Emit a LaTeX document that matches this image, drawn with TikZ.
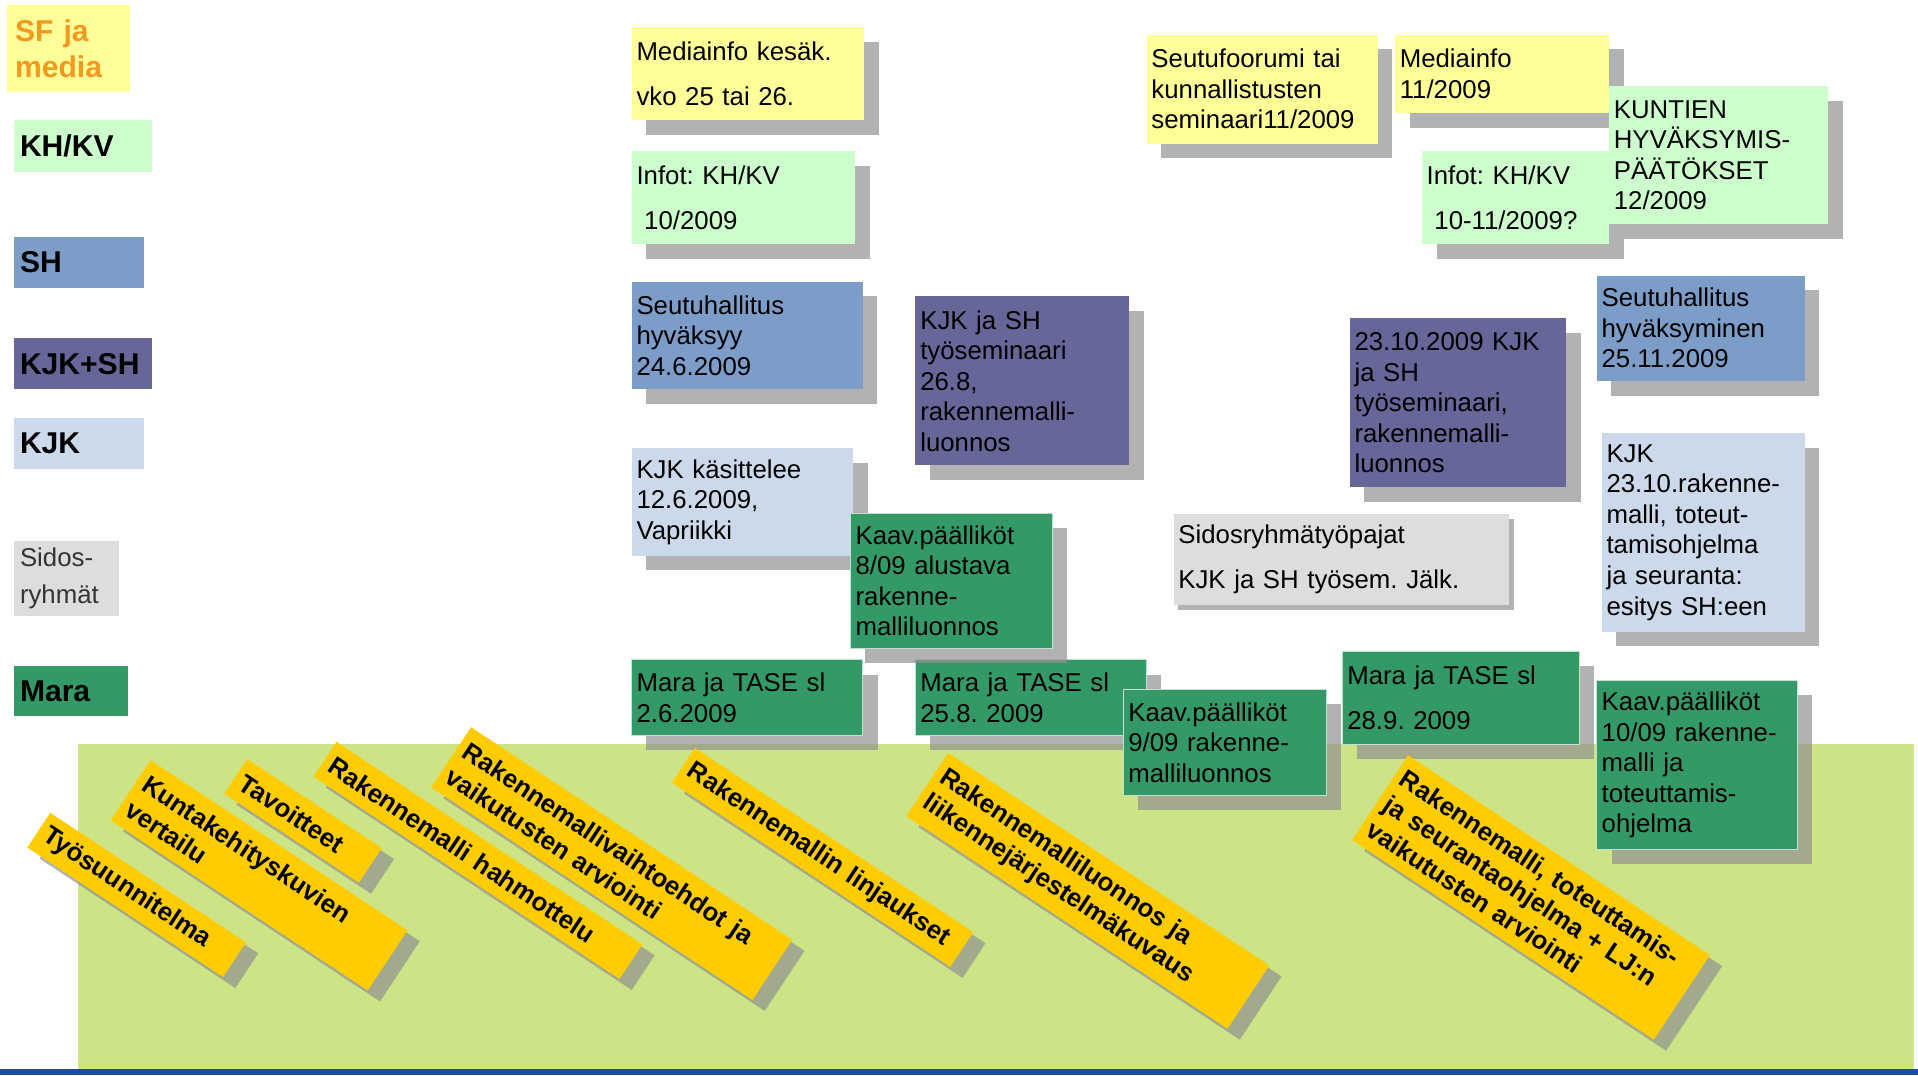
\documentclass[tikz,border=0pt]{standalone}
\usepackage{fontspec}
\setmainfont{Liberation Sans}
\usetikzlibrary{shadows}

\definecolor{infoyel}{HTML}{FFFF99}
\definecolor{khgreen}{HTML}{CCFFCC}
\definecolor{shblue}{HTML}{7C9DC8}
\definecolor{kjkshpurple}{HTML}{666699}
\definecolor{kjkblue}{HTML}{CCD9EA}
\definecolor{sidosgray}{HTML}{DDDDDD}
\definecolor{maragreen}{HTML}{339966}
\definecolor{phaseyel}{HTML}{FFCC00}
\definecolor{phasebg}{HTML}{CCE386}
\definecolor{sforange}{HTML}{F39A1E}
\definecolor{barblue}{HTML}{1F4E9A}
\definecolor{shadowgray}{HTML}{919191}

\begin{document}
\frenchspacing
\begin{tikzpicture}[
    x=0.02cm, y=-0.02cm,
    legend/.style={anchor=north west, align=left, inner xsep=0.1cm, inner ysep=0pt, font=\bfseries\fontsize{14}{17}\selectfont},
    evbox/.style={anchor=north west, align=left, inner xsep=0.08cm, inner ysep=0pt, font=\fontsize{12}{14.2}\selectfont},
    event/.style={evbox, drop shadow={shadow xshift=0.24cm, shadow yshift=-0.24cm, fill=shadowgray, opacity=0.7}},
    mara/.style={event, fill=maragreen, draw=white!70!maragreen, line width=0.5pt},
    phase/.style={anchor=north west, align=left, rotate=-33.5, fill=phaseyel, inner xsep=0.12cm, inner ysep=0pt, font=\bfseries\fontsize{12}{14.2}\selectfont, drop shadow={shadow xshift=0.2cm, shadow yshift=-0.18cm, fill=shadowgray, opacity=0.7}}
]
\useasboundingbox (0,0) rectangle (1568,879);
\fill [phasebg] (64,608) rectangle (1565,874);
\fill [barblue] (0,874) rectangle (1568,879);

\node (sfmedia) [legend, fill=infoyel, text=sforange, inner xsep=0.14cm, text width=1.74cm, minimum height=1.42cm] at (5,4) {SF ja\\media};
\node (khkv) [legend, fill=khgreen, text width=2.06cm, minimum height=0.84cm] at (11,98) {KH/KV};
\node (sh) [legend, fill=shblue, text width=1.92cm, minimum height=0.84cm] at (11,193) {SH};
\node (kjksh) [legend, fill=kjkshpurple, text width=2.06cm, minimum height=0.84cm] at (11,276) {KJK+SH};
\node (kjk) [legend, fill=kjkblue, text width=1.92cm, minimum height=0.84cm] at (11,341) {KJK};
\node (sidos) [legend, fill=sidosgray, text=black!80, font=\fontsize{12}{17}\selectfont, text width=1.52cm, minimum height=1.22cm] at (11,442) {Sidos-\\ryhmät};
\node (mara) [legend, fill=maragreen, text width=1.66cm, minimum height=0.82cm] at (11,544) {Mara};

\node (mediakes) [event, fill=infoyel, text width=3.64cm, minimum height=1.52cm] at (516,22) {Mediainfo kesäk.\\[6.8pt]vko 25 tai 26.};
\node (infokh) [event, fill=khgreen, text width=3.50cm, minimum height=1.52cm] at (516,123) {Infot: KH/KV\\[6.8pt]\hspace*{0.3em}10/2009};
\node (shkes) [event, fill=shblue, text width=3.62cm, minimum height=1.76cm] at (516,230) {Seutuhallitus\\hyväksyy\\24.6.2009};
\node (semelo) [event, fill=kjkshpurple, text width=3.34cm, minimum height=2.76cm] at (748,242) {KJK ja SH\\työseminaari\\26.8,\\rakennemalli-\\luonnos};
\node (kjkkes) [event, fill=kjkblue, text width=3.46cm, minimum height=1.76cm] at (516,366) {KJK käsittelee\\12.6.2009,\\Vapriikki};
\node (marakes) [mara, text width=3.62cm, minimum height=1.24cm] at (516,539) {Mara ja TASE sl\\2.6.2009};
\node (maraelo) [mara, text width=3.62cm, minimum height=1.24cm] at (748,539) {Mara ja TASE sl\\25.8. 2009};
\node (kaavelo) [mara, text width=3.14cm, minimum height=2.22cm] at (695,419) {Kaav.päälliköt\\8/09 alustava\\rakenne-\\malliluonnos};
\node (kaavsyys) [mara, text width=3.16cm, minimum height=1.74cm] at (918,563) {Kaav.päälliköt\\9/09 rakenne-\\malliluonnos};

\node (foorumi) [event, fill=infoyel, text width=3.62cm, minimum height=1.78cm] at (937,28) {Seutufoorumi tai\\kunnallistusten\\seminaari11/2009};
\node (mediamar) [event, fill=infoyel, text width=3.34cm, minimum height=1.28cm] at (1140,28) {Mediainfo\\11/2009};
\node (infokh2) [event, fill=khgreen, text width=2.90cm, minimum height=1.52cm] at (1162,123) {Infot: KH/KV\\[6.8pt]\hspace*{0.3em}10-11/2009?};
\node (kuntien) [event, fill=khgreen, text width=3.42cm, minimum height=2.26cm] at (1315,70) {KUNTIEN\\HYVÄKSYMIS-\\PÄÄTÖKSET\\12/2009};
\node (shmar) [event, fill=shblue, text width=3.24cm, minimum height=1.72cm] at (1305,225) {Seutuhallitus\\hyväksyminen\\25.11.2009};
\node (semlok) [event, fill=kjkshpurple, text width=3.38cm, minimum height=2.76cm] at (1103,260) {23.10.2009 KJK\\ja SH\\työseminaari,\\rakennemalli-\\luonnos};
\node (sidospaja) [evbox, fill=sidosgray, text width=5.32cm, minimum height=1.48cm, drop shadow={shadow xshift=0.08cm, shadow yshift=-0.08cm, fill=shadowgray, opacity=0.7}] at (959,420) {Sidosryhmätyöpajat\\[6.8pt]KJK ja SH työsem. Jälk.};
\node (kjklok) [event, fill=kjkblue, text width=3.16cm, minimum height=3.24cm] at (1309,354) {KJK\\23.10.rakenne-\\malli, toteut-\\tamisohjelma\\ja seuranta:\\esitys SH:een};
\node (marasyys) [mara, text width=3.72cm, minimum height=1.52cm] at (1097,532) {Mara ja TASE sl\\[7pt]28.9. 2009};
\node (kaavlok) [mara, text width=3.12cm, minimum height=2.76cm] at (1305,556) {Kaav.päälliköt\\10/09 rakenne-\\malli ja\\toteuttamis-\\ohjelma};

\node (tyo) [phase, text width=3.60cm, minimum height=0.68cm] at (41,664) {Työsuunnitelma};
\node (kunta) [phase, text width=4.80cm, minimum height=1.18cm] at (123,621) {Kuntakehityskuvien\\vertailu};
\node (tavo) [phase, text width=2.40cm, minimum height=0.68cm] at (202,620) {Tavoitteet};
\node (hahmo) [phase, text width=5.76cm, minimum height=0.68cm] at (275,606) {Rakennemalli hahmottelu};
\node (vaihto) [phase, text width=6.06cm, minimum height=1.18cm] at (385,594) {Rakennemallivaihtoehdot ja\\vaikutusten arviointi};
\node (linja) [phase, text width=5.22cm, minimum height=0.68cm] at (568,611) {Rakennemallin linjaukset};
\node (luonnos) [phase, text width=6.06cm, minimum height=1.24cm] at (775,615) {Rakennemalliluonnos ja\\liikennejärjestelmäkuvaus};
\node (toteut) [phase, text width=5.68cm, minimum height=1.66cm] at (1151,617) {Rakennemalli, toteuttamis-\\ja seurantaohjelma + LJ:n\\vaikutusten arviointi};

\end{tikzpicture}
\end{document}
